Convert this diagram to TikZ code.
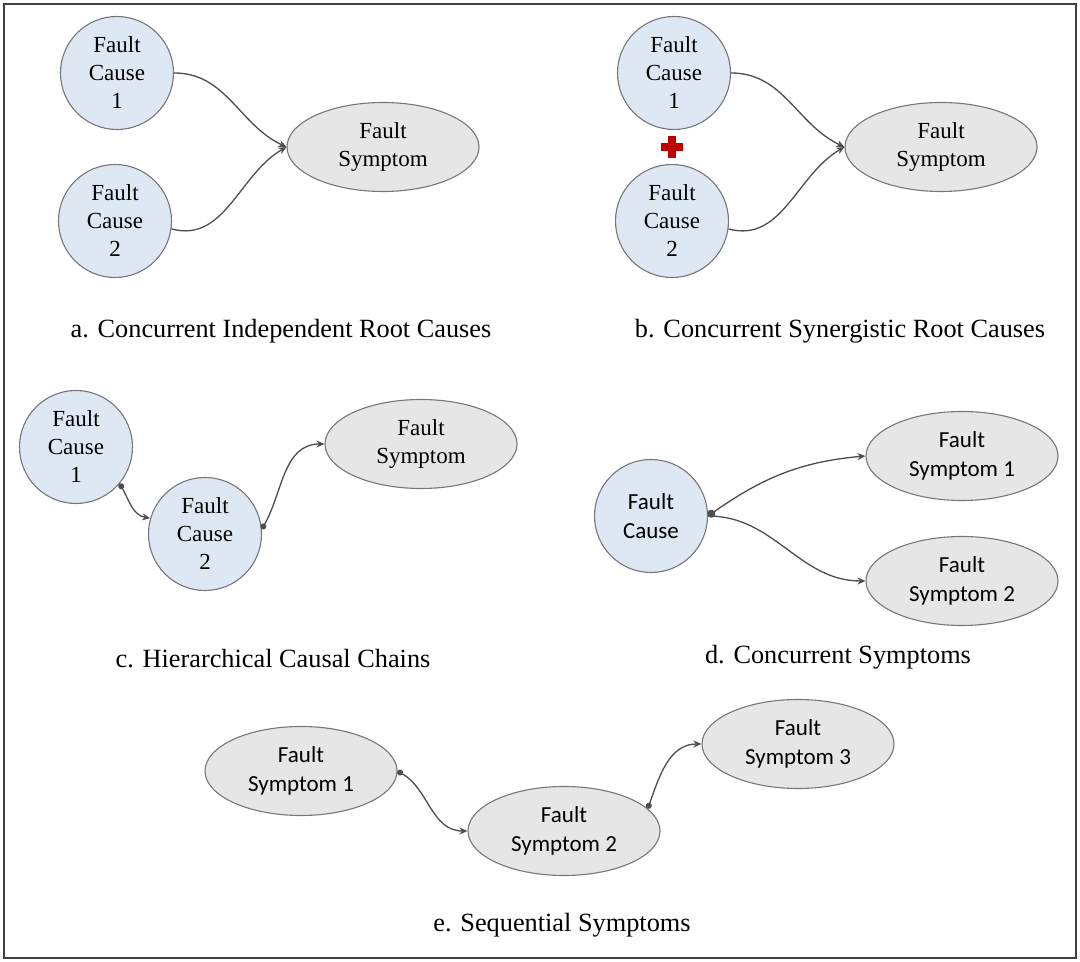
\documentclass[tikz,border=0pt]{standalone}
\usepackage{fontspec}
\setmainfont{Liberation Serif}
\newfontfamily\seriffnt{Liberation Serif}
\newfontfamily\sansfnt{Carlito}
\usetikzlibrary{arrows.meta,shapes.geometric}
\definecolor{causefill}{HTML}{DEE8F4}
\definecolor{sympfill}{HTML}{E6E6E6}
\definecolor{nodeline}{HTML}{777777}
\definecolor{conn}{HTML}{4D4D4D}
\definecolor{framecol}{HTML}{404040}
\definecolor{plusred}{HTML}{C00000}
\begin{document}
\begin{tikzpicture}[x=1pt,y=1pt,
  cause/.style={circle, draw=nodeline, line width=1.1pt, fill=causefill, minimum size=113pt, inner sep=0pt, align=center, font=\seriffnt\fontsize{23}{28}\selectfont},
  symp/.style={ellipse, draw=nodeline, line width=1.1pt, fill=sympfill, minimum width=192pt, minimum height=89pt, inner sep=0pt, align=center, font=\seriffnt\fontsize{23}{28}\selectfont},
  sanstxt/.style={font=\sansfnt\fontsize{23}{29}\selectfont},
  link/.style={draw=conn, line width=1.3pt, -{Stealth[length=8pt,width=7pt]}},
  dotlink/.style={draw=conn, line width=1.3pt, {Circle[length=6pt]}-{Stealth[length=8pt,width=7pt]}},
  bigdotlink/.style={draw=conn, line width=1.3pt, {Circle[length=8pt]}-{Stealth[length=8pt,width=7pt]}},
  captiontxt/.style={font=\seriffnt\fontsize{26.3}{30}\selectfont, inner sep=0pt}]
\useasboundingbox (0,0) rectangle (1080,962);
\draw[framecol, line width=2pt] (4,4) rectangle (1076,958);

% panel a
\node[cause] (a1) at (117,889) {Fault\\Cause\\1};
\node[cause] (a2) at (115,741) {Fault\\Cause\\2};
\node[symp] (as) at (383,815) {Fault\\Symptom};
\draw[link] (a1.east) to[out=0,in=155] (as.west);
\draw[link] (a2.-8) to[out=-15,in=210] (as.west);
\node[captiontxt] (capa) at (281,631) {a. Concurrent Independent Root Causes};

% panel b
\node[cause] (b1) at (674,889) {Fault\\Cause\\1};
\node[cause] (b2) at (672,741) {Fault\\Cause\\2};
\node[symp] (bs) at (941,815) {Fault\\Symptom};
\draw[link] (b1.east) to[out=0,in=155] (bs.west);
\draw[link] (b2.-8) to[out=-15,in=210] (bs.west);
\fill[plusred] (668,804) rectangle (676,826);
\fill[plusred] (661,811) rectangle (683,819);
\node[captiontxt] (capb) at (840,631) {b. Concurrent Synergistic Root Causes};

% panel c
\node[cause] (c1) at (76,515) {Fault\\Cause\\1};
\node[cause] (c2) at (205,428) {Fault\\Cause\\2};
\node[symp] (cs) at (421,518) {Fault\\Symptom};
\draw[dotlink] (c1.-40) to[out=-60,in=170] (c2.164);
\draw[dotlink] (c2.5) to[out=60,in=180] (cs.west);
\node[captiontxt] (capc) at (273,303) {c. Hierarchical Causal Chains};

% panel d
\node[cause, sanstxt] (dc) at (651,446) {Fault\\Cause};
\node[symp, sanstxt] (ds1) at (962,506) {Fault\\Symptom 1};
\node[symp, sanstxt] (ds2) at (962,381) {Fault\\Symptom 2};
\draw[bigdotlink] (dc.east) to[out=35,in=185] (ds1.west);
\draw[link] (dc.east) to[out=0,in=180] (ds2.west);
\node[captiontxt] (capd) at (838,305) {d. Concurrent Symptoms};

% panel e
\node[symp, sanstxt] (e1) at (301,191) {Fault\\Symptom 1};
\node[symp, sanstxt] (e2) at (564,131) {Fault\\Symptom 2};
\node[symp, sanstxt] (e3) at (798,218) {Fault\\Symptom 3};
\draw[dotlink] (e1.east) to[out=-30,in=180] (e2.west);
\draw[dotlink] (e2.15) to[out=70,in=180] (e3.west);
\node[captiontxt] (cape) at (562,37) {e. Sequential Symptoms};
\end{tikzpicture}
\end{document}
